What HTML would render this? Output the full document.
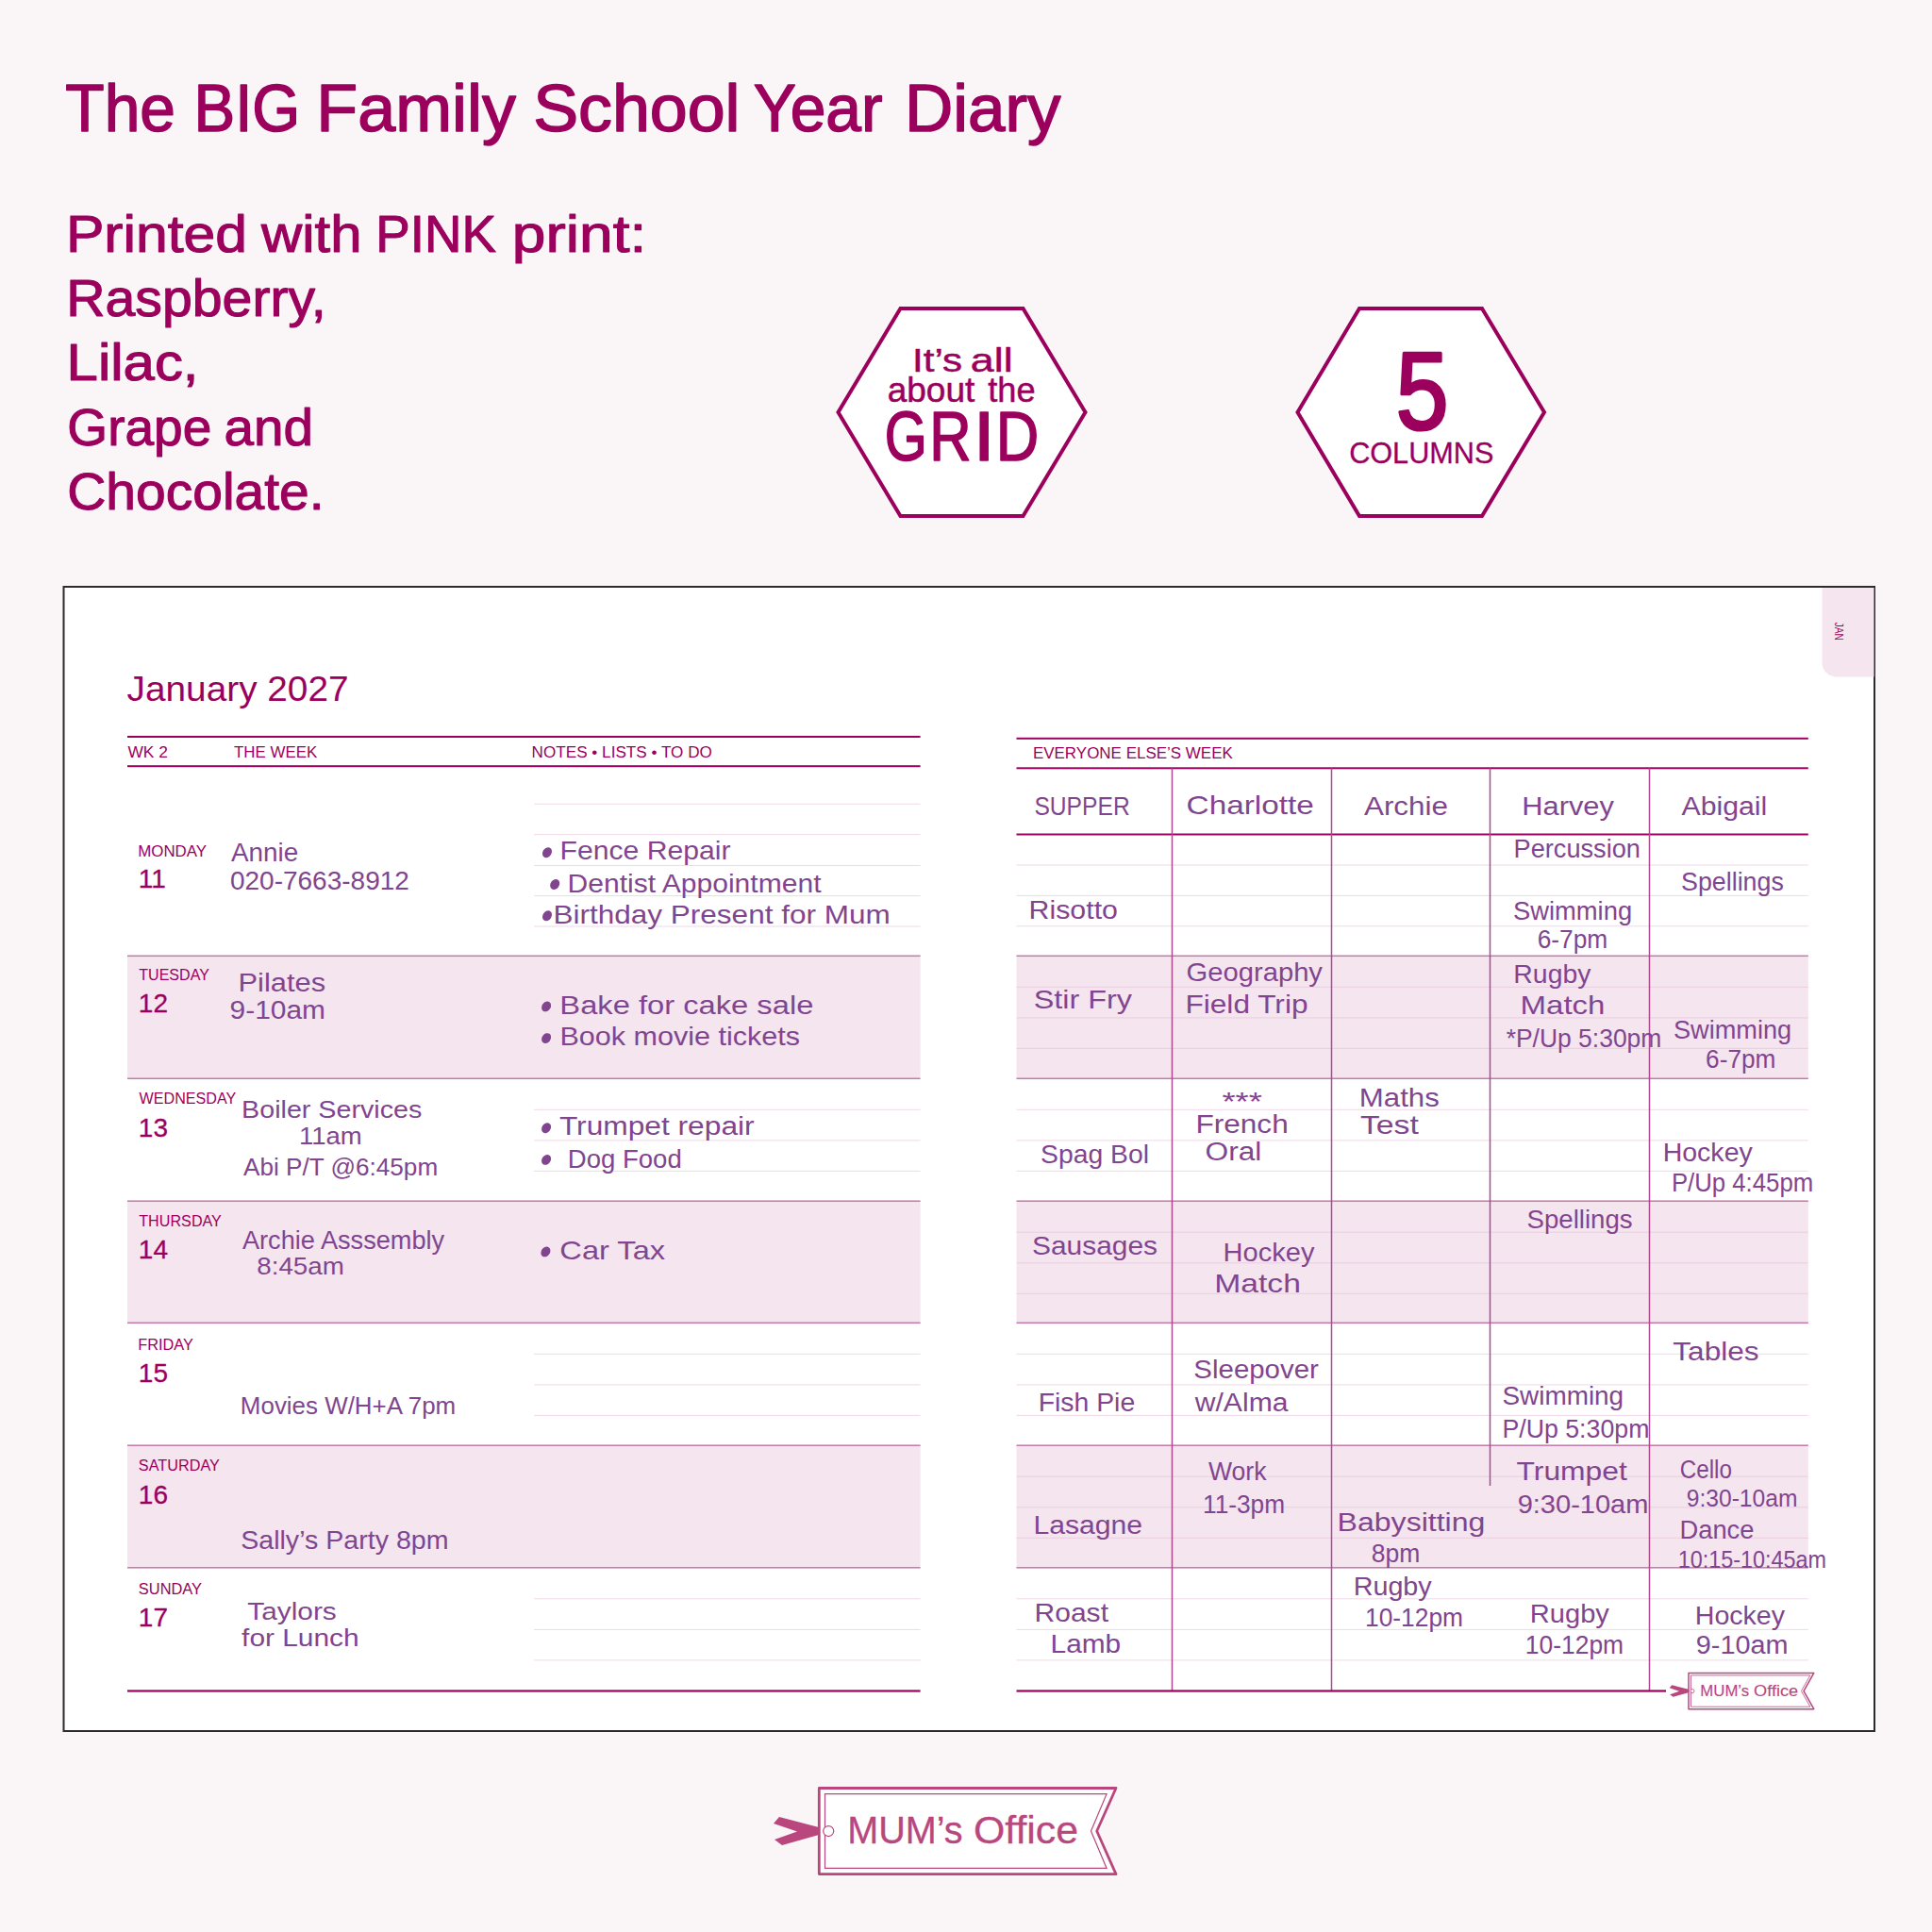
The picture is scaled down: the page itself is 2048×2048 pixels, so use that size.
<!DOCTYPE html>
<html><head><meta charset="utf-8"><title>The BIG Family School Year Diary</title>
<style>
html,body{margin:0;padding:0;background:#faf6f7;}
body{width:2048px;height:2048px;overflow:hidden;}
svg{display:block;font-family:"Liberation Sans", sans-serif;}
</style></head><body>
<svg width="2048" height="2048" viewBox="0 0 2048 2048">
<rect width="2048" height="2048" fill="#faf6f7"/>
<text transform="matrix(0.9541 0 0 1 69.28 139.00)" font-size="71" font-weight="normal" fill="#9b005d" stroke="#9b005d" stroke-width="1.5" stroke-linejoin="round">The</text>
<text transform="matrix(0.9219 0 0 1 205.53 139.00)" font-size="71" font-weight="normal" fill="#9b005d" stroke="#9b005d" stroke-width="1.5" stroke-linejoin="round">BIG</text>
<text transform="matrix(1.0124 0 0 1 335.30 139.00)" font-size="71" font-weight="normal" fill="#9b005d" stroke="#9b005d" stroke-width="1.5" stroke-linejoin="round">Family</text>
<text transform="matrix(1.0109 0 0 1 565.14 139.00)" font-size="71" font-weight="normal" fill="#9b005d" stroke="#9b005d" stroke-width="1.5" stroke-linejoin="round">School</text>
<text transform="matrix(0.9543 0 0 1 798.71 139.00)" font-size="71" font-weight="normal" fill="#9b005d" stroke="#9b005d" stroke-width="1.5" stroke-linejoin="round">Year</text>
<text transform="matrix(0.9999 0 0 1 958.88 139.00)" font-size="71" font-weight="normal" fill="#9b005d" stroke="#9b005d" stroke-width="1.5" stroke-linejoin="round">Diary</text>
<text transform="matrix(1.1022 0 0 1 69.93 267.30)" font-size="55" font-weight="normal" fill="#9b005d" stroke="#9b005d" stroke-width="1.1" stroke-linejoin="round">Printed</text>
<text transform="matrix(1.0878 0 0 1 277.09 267.30)" font-size="55" font-weight="normal" fill="#9b005d" stroke="#9b005d" stroke-width="1.1" stroke-linejoin="round">with</text>
<text transform="matrix(0.9948 0 0 1 398.31 267.30)" font-size="55" font-weight="normal" fill="#9b005d" stroke="#9b005d" stroke-width="1.1" stroke-linejoin="round">PINK</text>
<text transform="matrix(1.1644 0 0 1 542.87 267.30)" font-size="55" font-weight="normal" fill="#9b005d" stroke="#9b005d" stroke-width="1.1" stroke-linejoin="round">print:</text>
<text transform="matrix(1.0403 0 0 1 70.21 335.00)" font-size="55" font-weight="normal" fill="#9b005d" stroke="#9b005d" stroke-width="1.1" stroke-linejoin="round">Raspberry,</text>
<text transform="matrix(1.0904 0 0 1 70.58 403.40)" font-size="55" font-weight="normal" fill="#9b005d" stroke="#9b005d" stroke-width="1.1" stroke-linejoin="round">Lilac,</text>
<text transform="matrix(1.0010 0 0 1 71.33 472.00)" font-size="55" font-weight="normal" fill="#9b005d" stroke="#9b005d" stroke-width="1.1" stroke-linejoin="round">Grape</text>
<text transform="matrix(1.0305 0 0 1 237.49 472.00)" font-size="55" font-weight="normal" fill="#9b005d" stroke="#9b005d" stroke-width="1.1" stroke-linejoin="round">and</text>
<text transform="matrix(1.0360 0 0 1 71.21 539.80)" font-size="55" font-weight="normal" fill="#9b005d" stroke="#9b005d" stroke-width="1.1" stroke-linejoin="round">Chocolate.</text>
<polygon points="888.5,437 954.5,327 1084.5,327 1150.5,437 1084.5,547 954.5,547" fill="#ffffff" stroke="#9b005d" stroke-width="4" stroke-linejoin="miter"/>
<polygon points="1375.5,437 1441,327 1571,327 1637,437 1571,547 1441,547" fill="#ffffff" stroke="#9b005d" stroke-width="4" stroke-linejoin="miter"/>
<text transform="matrix(1.1697 0 0 1 967.11 393.90)" font-size="36" font-weight="normal" fill="#9b005d" stroke="#9b005d" stroke-width="0.5" stroke-linejoin="round">It’s</text>
<text transform="matrix(1.2438 0 0 1 1028.80 393.90)" font-size="36" font-weight="normal" fill="#9b005d" stroke="#9b005d" stroke-width="0.5" stroke-linejoin="round">all</text>
<text transform="matrix(1.0284 0 0 1 940.63 425.70)" font-size="36" font-weight="normal" fill="#9b005d" stroke="#9b005d" stroke-width="0.5" stroke-linejoin="round">about</text>
<text transform="matrix(1.0063 0 0 1 1047.25 425.70)" font-size="36" font-weight="normal" fill="#9b005d" stroke="#9b005d" stroke-width="0.5" stroke-linejoin="round">the</text>
<text transform="matrix(0.7804 0 0 1 937.80 487.90)" font-size="74" font-weight="normal" fill="#9b005d" stroke="#9b005d" stroke-width="1.6" stroke-linejoin="round">G</text>
<text transform="matrix(0.8307 0 0 1 985.26 487.90)" font-size="74" font-weight="normal" fill="#9b005d" stroke="#9b005d" stroke-width="1.6" stroke-linejoin="round">R</text>
<text transform="matrix(1.1157 0 0 1 1031.68 487.90)" font-size="74" font-weight="normal" fill="#9b005d" stroke="#9b005d" stroke-width="1.6" stroke-linejoin="round">I</text>
<text transform="matrix(0.8510 0 0 1 1055.83 487.90)" font-size="74" font-weight="normal" fill="#9b005d" stroke="#9b005d" stroke-width="1.6" stroke-linejoin="round">D</text>
<text transform="matrix(0.8637 0 0 1 1479.79 455.20)" font-size="116" font-weight="normal" fill="#9b005d" stroke="#9b005d" stroke-width="3.2" stroke-linejoin="round">5</text>
<text transform="matrix(0.9578 0 0 1 1430.14 491.40)" font-size="32" font-weight="normal" fill="#9b005d" stroke="#9b005d" stroke-width="0.3" stroke-linejoin="round">COLUMNS</text>
<rect x="67.5" y="622" width="1919.5" height="1213" fill="#ffffff" stroke="#2b2b2b" stroke-width="2"/>
<path d="M1931.5 623 H1986.5 V717.5 H1946.5 A15 15 0 0 1 1931.5 702.5 Z" fill="#f4e5ef"/>
<text transform="translate(1945 659.5) rotate(90)" font-size="12.5" fill="#9b005d" textLength="19.5" lengthAdjust="spacingAndGlyphs">JAN</text>
<text transform="matrix(1.0483 0 0 1 134.59 743.30)" font-size="37" font-weight="normal" fill="#9b005d">January 2027</text>
<rect x="135" y="780.00" width="840.60" height="2" fill="#9b005d"/>
<rect x="135" y="811.20" width="840.60" height="2" fill="#9b005d"/>
<text transform="matrix(1.0523 0 0 1 135.42 802.90)" font-size="16.5" font-weight="normal" fill="#9b005d">WK 2</text>
<text transform="matrix(1.0232 0 0 1 248.02 802.90)" font-size="16.5" font-weight="normal" fill="#9b005d">THE WEEK</text>
<text transform="matrix(1.0390 0 0 1 563.59 802.90)" font-size="16.5" font-weight="normal" fill="#9b005d">NOTES • LISTS • TO DO</text>
<rect x="566" y="851.70" width="409.60" height="1" fill="#f0d9e8"/>
<rect x="566" y="884.10" width="409.60" height="1" fill="#f0d9e8"/>
<rect x="566" y="917.00" width="409.60" height="1" fill="#f0d9e8"/>
<rect x="566" y="949.10" width="409.60" height="1" fill="#f0d9e8"/>
<rect x="566" y="981.50" width="409.60" height="1" fill="#f0d9e8"/>
<rect x="135" y="1013.3" width="840.6" height="130.0" fill="#f4e5ef"/>
<rect x="566" y="1175.80" width="409.60" height="1" fill="#f0d9e8"/>
<rect x="566" y="1208.40" width="409.60" height="1" fill="#f0d9e8"/>
<rect x="566" y="1240.90" width="409.60" height="1" fill="#f0d9e8"/>
<rect x="135" y="1273.2" width="840.6" height="129.0999999999999" fill="#f4e5ef"/>
<rect x="566" y="1434.80" width="409.60" height="1" fill="#f0d9e8"/>
<rect x="566" y="1467.40" width="409.60" height="1" fill="#f0d9e8"/>
<rect x="566" y="1499.90" width="409.60" height="1" fill="#f0d9e8"/>
<rect x="135" y="1532.2" width="840.6" height="129.5999999999999" fill="#f4e5ef"/>
<rect x="566" y="1694.30" width="409.60" height="1" fill="#f0d9e8"/>
<rect x="566" y="1726.90" width="409.60" height="1" fill="#f0d9e8"/>
<rect x="566" y="1759.40" width="409.60" height="1" fill="#f0d9e8"/>
<rect x="135" y="1012.55" width="840.60" height="1.5" fill="#c479a9"/>
<rect x="135" y="1142.55" width="840.60" height="1.5" fill="#c479a9"/>
<rect x="135" y="1272.45" width="840.60" height="1.5" fill="#c479a9"/>
<rect x="135" y="1401.55" width="840.60" height="1.5" fill="#c479a9"/>
<rect x="135" y="1531.45" width="840.60" height="1.5" fill="#c479a9"/>
<rect x="135" y="1661.05" width="840.60" height="1.5" fill="#c479a9"/>
<rect x="135" y="1791.40" width="840.60" height="2.2" fill="#9b005d"/>
<text transform="matrix(1.0117 0 0 1 146.21 907.90)" font-size="16.7" font-weight="normal" fill="#9b005d">MONDAY</text>
<text transform="matrix(1.0000 0 0 1 146.87 940.90)" font-size="28" font-weight="normal" fill="#9b005d" stroke="#9b005d" stroke-width="0.3" stroke-linejoin="round">11</text>
<text transform="matrix(0.9624 0 0 1 147.24 1038.90)" font-size="16.7" font-weight="normal" fill="#9b005d">TUESDAY</text>
<text transform="matrix(1.0000 0 0 1 146.87 1073.00)" font-size="28" font-weight="normal" fill="#9b005d" stroke="#9b005d" stroke-width="0.3" stroke-linejoin="round">12</text>
<text transform="matrix(0.9655 0 0 1 147.53 1170.20)" font-size="16.7" font-weight="normal" fill="#9b005d">WEDNESDAY</text>
<text transform="matrix(1.0000 0 0 1 146.87 1204.50)" font-size="28" font-weight="normal" fill="#9b005d" stroke="#9b005d" stroke-width="0.3" stroke-linejoin="round">13</text>
<text transform="matrix(0.9680 0 0 1 147.24 1299.90)" font-size="16.7" font-weight="normal" fill="#9b005d">THURSDAY</text>
<text transform="matrix(1.0000 0 0 1 146.87 1333.90)" font-size="28" font-weight="normal" fill="#9b005d" stroke="#9b005d" stroke-width="0.3" stroke-linejoin="round">14</text>
<text transform="matrix(0.9781 0 0 1 146.26 1430.90)" font-size="16.7" font-weight="normal" fill="#9b005d">FRIDAY</text>
<text transform="matrix(1.0000 0 0 1 146.87 1465.20)" font-size="28" font-weight="normal" fill="#9b005d" stroke="#9b005d" stroke-width="0.3" stroke-linejoin="round">15</text>
<text transform="matrix(0.9732 0 0 1 146.86 1559.00)" font-size="16.7" font-weight="normal" fill="#9b005d">SATURDAY</text>
<text transform="matrix(1.0000 0 0 1 146.87 1593.50)" font-size="28" font-weight="normal" fill="#9b005d" stroke="#9b005d" stroke-width="0.3" stroke-linejoin="round">16</text>
<text transform="matrix(0.9843 0 0 1 146.85 1689.70)" font-size="16.7" font-weight="normal" fill="#9b005d">SUNDAY</text>
<text transform="matrix(1.0000 0 0 1 146.87 1723.90)" font-size="28" font-weight="normal" fill="#9b005d" stroke="#9b005d" stroke-width="0.3" stroke-linejoin="round">17</text>
<rect x="1077.5" y="781.80" width="839.30" height="2" fill="#9b005d"/>
<rect x="1077.5" y="813.30" width="839.30" height="2" fill="#9b005d"/>
<text transform="matrix(1.0289 0 0 1 1094.91 804.00)" font-size="16.5" font-weight="normal" fill="#9b005d">EVERYONE ELSE’S WEEK</text>
<rect x="1077.5" y="883.50" width="839.30" height="2" fill="#9b005d"/>
<rect x="1077.5" y="916.50" width="839.30" height="1" fill="#f0d9e8"/>
<rect x="1077.5" y="948.90" width="839.30" height="1" fill="#f0d9e8"/>
<rect x="1077.5" y="981.30" width="839.30" height="1" fill="#f0d9e8"/>
<rect x="1077.5" y="1013.3" width="839.3" height="130.0" fill="#f4e5ef"/>
<rect x="1077.5" y="1045.80" width="839.30" height="1" fill="#e9cfe0"/>
<rect x="1077.5" y="1078.40" width="839.30" height="1" fill="#e9cfe0"/>
<rect x="1077.5" y="1110.90" width="839.30" height="1" fill="#e9cfe0"/>
<rect x="1077.5" y="1175.80" width="839.30" height="1" fill="#f0d9e8"/>
<rect x="1077.5" y="1208.40" width="839.30" height="1" fill="#f0d9e8"/>
<rect x="1077.5" y="1240.90" width="839.30" height="1" fill="#f0d9e8"/>
<rect x="1077.5" y="1273.2" width="839.3" height="129.0999999999999" fill="#f4e5ef"/>
<rect x="1077.5" y="1305.70" width="839.30" height="1" fill="#e9cfe0"/>
<rect x="1077.5" y="1338.30" width="839.30" height="1" fill="#e9cfe0"/>
<rect x="1077.5" y="1370.80" width="839.30" height="1" fill="#e9cfe0"/>
<rect x="1077.5" y="1434.80" width="839.30" height="1" fill="#f0d9e8"/>
<rect x="1077.5" y="1467.40" width="839.30" height="1" fill="#f0d9e8"/>
<rect x="1077.5" y="1499.90" width="839.30" height="1" fill="#f0d9e8"/>
<rect x="1077.5" y="1532.2" width="839.3" height="129.5999999999999" fill="#f4e5ef"/>
<rect x="1077.5" y="1564.70" width="839.30" height="1" fill="#e9cfe0"/>
<rect x="1077.5" y="1597.30" width="839.30" height="1" fill="#e9cfe0"/>
<rect x="1077.5" y="1629.80" width="839.30" height="1" fill="#e9cfe0"/>
<rect x="1077.5" y="1694.30" width="839.30" height="1" fill="#f0d9e8"/>
<rect x="1077.5" y="1726.90" width="839.30" height="1" fill="#f0d9e8"/>
<rect x="1077.5" y="1759.40" width="839.30" height="1" fill="#f0d9e8"/>
<rect x="1077.5" y="1012.55" width="839.30" height="1.5" fill="#c479a9"/>
<rect x="1077.5" y="1142.55" width="839.30" height="1.5" fill="#c479a9"/>
<rect x="1077.5" y="1272.45" width="839.30" height="1.5" fill="#c479a9"/>
<rect x="1077.5" y="1401.55" width="839.30" height="1.5" fill="#c479a9"/>
<rect x="1077.5" y="1531.45" width="839.30" height="1.5" fill="#c479a9"/>
<rect x="1077.5" y="1661.05" width="839.30" height="1.5" fill="#c479a9"/>
<rect x="1241.75" y="814.3" width="1.5" height="978.20" fill="#ad4a8f"/>
<rect x="1410.75" y="814.3" width="1.5" height="978.20" fill="#ad4a8f"/>
<rect x="1578.75" y="814.3" width="1.5" height="760.70" fill="#ad4a8f"/>
<rect x="1747.75" y="814.3" width="1.5" height="978.20" fill="#ad4a8f"/>
<rect x="1077.5" y="1791.40" width="688.50" height="2.2" fill="#9b005d"/>
<path d="M1790 1773.4 H1922.8 L1912 1792.5500000000002 L1922.8 1811.7 H1790 Z" fill="#ffffff" stroke="#b9477d" stroke-width="1.5" stroke-linejoin="round"/>
<path d="M1792.5 1775.9 H1918.8 L1909.5 1792.5500000000002 L1918.8 1809.2 H1792.5 Z" fill="none" stroke="#b9477d" stroke-width="0.8"/>
<path d="M1769.71 1789.19 L1772.23 1786.25 L1789.87 1790.87 L1789.87 1794.23 L1773.49 1798.85 L1770.13 1796.33 L1780.21 1792.76 Z" fill="#b9477d"/>
<circle cx="1794.0" cy="1792.5500000000002" r="2" fill="#ffffff" stroke="#b9477d" stroke-width="0.8"/>
<text transform="matrix(1.0493 0 0 1 1802.32 1798.20)" font-size="16" font-weight="normal" fill="#b9477d" stroke="#b9477d" stroke-width="0.12718204488778054" stroke-linejoin="round">MUM’s</text>
<text transform="matrix(1.1355 0 0 1 1859.05 1798.20)" font-size="16" font-weight="normal" fill="#b9477d" stroke="#b9477d" stroke-width="0.12718204488778054" stroke-linejoin="round">Office</text>
<path d="M868.3 1895.5 H1183 L1162.7 1941.05 L1183 1986.6 H868.3 Z" fill="#ffffff" stroke="#b9477d" stroke-width="2.8" stroke-linejoin="round"/>
<path d="M874.5 1901.7 H1173.08 L1156.5 1941.05 L1173.08 1980.3999999999999 H874.5 Z" fill="none" stroke="#b9477d" stroke-width="1.2"/>
<path d="M820.00 1933.05 L826.00 1926.05 L868.00 1937.05 L868.00 1945.05 L829.00 1956.05 L821.00 1950.05 L845.00 1941.55 Z" fill="#b9477d"/>
<circle cx="878.2199999999999" cy="1941.05" r="5.5" fill="#ffffff" stroke="#b9477d" stroke-width="1.2"/>
<text transform="matrix(0.9901 0 0 1 898.15 1953.50)" font-size="40" font-weight="normal" fill="#b9477d" stroke="#b9477d" stroke-width="0.3" stroke-linejoin="round">MUM’s</text>
<text transform="matrix(1.0714 0 0 1 1031.97 1953.50)" font-size="40" font-weight="normal" fill="#b9477d" stroke="#b9477d" stroke-width="0.3" stroke-linejoin="round">Office</text>
<ellipse cx="580" cy="903.7" rx="4.6" ry="5.8" transform="rotate(35 580 903.7)" fill="#81458f"/>
<ellipse cx="588.2" cy="937.5" rx="4.6" ry="5.8" transform="rotate(35 588.2 937.5)" fill="#81458f"/>
<ellipse cx="580" cy="970.8" rx="4.6" ry="5.8" transform="rotate(35 580 970.8)" fill="#81458f"/>
<ellipse cx="579.1" cy="1066.9" rx="4.6" ry="5.8" transform="rotate(35 579.1 1066.9)" fill="#81458f"/>
<ellipse cx="579.1" cy="1100.6" rx="4.6" ry="5.8" transform="rotate(35 579.1 1100.6)" fill="#81458f"/>
<ellipse cx="579.1" cy="1195.7" rx="4.6" ry="5.8" transform="rotate(35 579.1 1195.7)" fill="#81458f"/>
<ellipse cx="579.1" cy="1229.4" rx="4.6" ry="5.8" transform="rotate(35 579.1 1229.4)" fill="#81458f"/>
<ellipse cx="578.4" cy="1326.9" rx="4.6" ry="5.8" transform="rotate(35 578.4 1326.9)" fill="#81458f"/>
<text transform="matrix(1.0324 0 0 1 244.95 913.00)" font-size="27" font-weight="normal" fill="#81458f">Annie</text>
<text transform="matrix(1.0379 0 0 1 243.91 943.00)" font-size="27" font-weight="normal" fill="#81458f">020-7663-8912</text>
<text transform="matrix(1.1166 0 0 1 593.53 911.40)" font-size="27" font-weight="normal" fill="#81458f">Fence Repair</text>
<text transform="matrix(1.1133 0 0 1 601.53 946.00)" font-size="27" font-weight="normal" fill="#81458f">Dentist Appointment</text>
<text transform="matrix(1.1678 0 0 1 586.41 979.00)" font-size="27" font-weight="normal" fill="#81458f">Birthday Present for Mum</text>
<text transform="matrix(1.1432 0 0 1 252.47 1050.60)" font-size="27" font-weight="normal" fill="#81458f">Pilates</text>
<text transform="matrix(1.1073 0 0 1 243.60 1079.70)" font-size="27" font-weight="normal" fill="#81458f">9-10am</text>
<text transform="matrix(1.2117 0 0 1 593.32 1074.50)" font-size="27" font-weight="normal" fill="#81458f">Bake for cake sale</text>
<text transform="matrix(1.1312 0 0 1 593.49 1108.30)" font-size="27" font-weight="normal" fill="#81458f">Book movie tickets</text>
<text transform="matrix(1.1038 0 0 1 256.05 1184.50)" font-size="26" font-weight="normal" fill="#81458f">Boiler Services</text>
<text transform="matrix(1.0596 0 0 1 316.90 1212.50)" font-size="26" font-weight="normal" fill="#81458f">11am</text>
<text transform="matrix(1.0058 0 0 1 257.95 1246.00)" font-size="26" font-weight="normal" fill="#81458f">Abi P/T @6:45pm</text>
<text transform="matrix(1.1750 0 0 1 592.89 1202.60)" font-size="27" font-weight="normal" fill="#81458f">Trumpet repair</text>
<text transform="matrix(1.0208 0 0 1 601.74 1237.60)" font-size="27" font-weight="normal" fill="#81458f">Dog Food</text>
<text transform="matrix(1.0058 0 0 1 256.95 1324.00)" font-size="27" font-weight="normal" fill="#81458f">Archie Asssembly</text>
<text transform="matrix(1.0670 0 0 1 272.29 1351.00)" font-size="26" font-weight="normal" fill="#81458f">8:45am</text>
<text transform="matrix(1.2082 0 0 1 593.34 1334.50)" font-size="27" font-weight="normal" fill="#81458f">Car Tax</text>
<text transform="matrix(0.9974 0 0 1 254.87 1498.80)" font-size="26" font-weight="normal" fill="#81458f">Movies W/H+A 7pm</text>
<text transform="matrix(1.0596 0 0 1 255.20 1642.30)" font-size="27" font-weight="normal" fill="#81458f">Sally’s Party 8pm</text>
<text transform="matrix(1.1468 0 0 1 262.33 1716.80)" font-size="26" font-weight="normal" fill="#81458f">Taylors</text>
<text transform="matrix(1.1500 0 0 1 256.08 1744.80)" font-size="26" font-weight="normal" fill="#81458f">for Lunch</text>
<text transform="matrix(0.8803 0 0 1 1096.38 863.50)" font-size="28" font-weight="normal" fill="#81458f">SUPPER</text>
<text transform="matrix(1.1898 0 0 1 1257.61 863.00)" font-size="28" font-weight="normal" fill="#81458f">Charlotte</text>
<text transform="matrix(1.1221 0 0 1 1445.94 863.50)" font-size="28" font-weight="normal" fill="#81458f">Archie</text>
<text transform="matrix(1.1003 0 0 1 1613.27 863.50)" font-size="28" font-weight="normal" fill="#81458f">Harvey</text>
<text transform="matrix(1.0813 0 0 1 1782.44 863.50)" font-size="28" font-weight="normal" fill="#81458f">Abigail</text>
<text transform="matrix(1.0062 0 0 1 1604.57 909.30)" font-size="27" font-weight="normal" fill="#81458f">Percussion</text>
<text transform="matrix(0.9929 0 0 1 1782.08 943.70)" font-size="27" font-weight="normal" fill="#81458f">Spellings</text>
<text transform="matrix(1.1241 0 0 1 1090.51 973.50)" font-size="27" font-weight="normal" fill="#81458f">Risotto</text>
<text transform="matrix(1.0136 0 0 1 1603.96 974.80)" font-size="27" font-weight="normal" fill="#81458f">Swimming</text>
<text transform="matrix(0.9744 0 0 1 1629.66 1004.60)" font-size="27" font-weight="normal" fill="#81458f">6-7pm</text>
<text transform="matrix(1.0819 0 0 1 1257.53 1040.00)" font-size="27" font-weight="normal" fill="#81458f">Geography</text>
<text transform="matrix(1.1724 0 0 1 1256.40 1073.80)" font-size="27" font-weight="normal" fill="#81458f">Field Trip</text>
<text transform="matrix(1.1994 0 0 1 1095.73 1069.40)" font-size="27" font-weight="normal" fill="#81458f">Stir Fry</text>
<text transform="matrix(1.0517 0 0 1 1604.37 1042.10)" font-size="27" font-weight="normal" fill="#81458f">Rugby</text>
<text transform="matrix(1.2249 0 0 1 1611.49 1074.70)" font-size="27" font-weight="normal" fill="#81458f">Match</text>
<text transform="matrix(0.9803 0 0 1 1596.67 1109.80)" font-size="27" font-weight="normal" fill="#81458f">*P/Up 5:30pm</text>
<text transform="matrix(1.0061 0 0 1 1773.97 1101.30)" font-size="27" font-weight="normal" fill="#81458f">Swimming</text>
<text transform="matrix(0.9717 0 0 1 1808.07 1131.60)" font-size="27" font-weight="normal" fill="#81458f">6-7pm</text>
<text transform="matrix(1.1703 0 0 1 1267.41 1201.30)" font-size="27" font-weight="normal" fill="#81458f">French</text>
<text transform="matrix(1.1748 0 0 1 1277.50 1230.30)" font-size="27" font-weight="normal" fill="#81458f">Oral</text>
<text transform="matrix(1.1559 0 0 1 1440.84 1172.90)" font-size="27" font-weight="normal" fill="#81458f">Maths</text>
<text transform="matrix(1.2513 0 0 1 1441.94 1201.90)" font-size="27" font-weight="normal" fill="#81458f">Test</text>
<text transform="matrix(1.0493 0 0 1 1103.11 1233.00)" font-size="27" font-weight="normal" fill="#81458f">Spag Bol</text>
<text transform="matrix(1.0563 0 0 1 1762.66 1231.20)" font-size="27" font-weight="normal" fill="#81458f">Hockey</text>
<text transform="matrix(0.9538 0 0 1 1771.89 1263.00)" font-size="27" font-weight="normal" fill="#81458f">P/Up 4:45pm</text>
<text transform="matrix(1.1078 0 0 1 1094.04 1329.90)" font-size="27" font-weight="normal" fill="#81458f">Sausages</text>
<text transform="matrix(1.0768 0 0 1 1296.62 1336.90)" font-size="27" font-weight="normal" fill="#81458f">Hockey</text>
<text transform="matrix(1.2465 0 0 1 1287.24 1370.00)" font-size="27" font-weight="normal" fill="#81458f">Match</text>
<text transform="matrix(1.0245 0 0 1 1618.44 1302.00)" font-size="27" font-weight="normal" fill="#81458f">Spellings</text>
<text transform="matrix(1.1704 0 0 1 1773.29 1442.20)" font-size="27" font-weight="normal" fill="#81458f">Tables</text>
<text transform="matrix(1.0900 0 0 1 1265.36 1460.60)" font-size="27" font-weight="normal" fill="#81458f">Sleepover</text>
<text transform="matrix(1.1157 0 0 1 1266.74 1495.50)" font-size="27" font-weight="normal" fill="#81458f">w/Alma</text>
<text transform="matrix(1.0519 0 0 1 1100.67 1496.00)" font-size="27" font-weight="normal" fill="#81458f">Fish Pie</text>
<text transform="matrix(1.0341 0 0 1 1592.43 1488.90)" font-size="27" font-weight="normal" fill="#81458f">Swimming</text>
<text transform="matrix(0.9903 0 0 1 1592.41 1524.20)" font-size="27" font-weight="normal" fill="#81458f">P/Up 5:30pm</text>
<text transform="matrix(0.9855 0 0 1 1280.88 1569.20)" font-size="27" font-weight="normal" fill="#81458f">Work</text>
<text transform="matrix(0.9737 0 0 1 1275.00 1604.10)" font-size="27" font-weight="normal" fill="#81458f">11-3pm</text>
<text transform="matrix(1.1160 0 0 1 1095.53 1625.60)" font-size="27" font-weight="normal" fill="#81458f">Lasagne</text>
<text transform="matrix(1.1880 0 0 1 1417.57 1623.30)" font-size="27" font-weight="normal" fill="#81458f">Babysitting</text>
<text transform="matrix(0.9824 0 0 1 1453.65 1655.90)" font-size="27" font-weight="normal" fill="#81458f">8pm</text>
<text transform="matrix(1.1783 0 0 1 1607.59 1569.00)" font-size="27" font-weight="normal" fill="#81458f">Trumpet</text>
<text transform="matrix(1.0759 0 0 1 1608.64 1604.30)" font-size="27" font-weight="normal" fill="#81458f">9:30-10am</text>
<text transform="matrix(0.8980 0 0 1 1780.77 1566.70)" font-size="27" font-weight="normal" fill="#81458f">Cello</text>
<text transform="matrix(0.9475 0 0 1 1787.75 1597.40)" font-size="26" font-weight="normal" fill="#81458f">9:30-10am</text>
<text transform="matrix(1.0130 0 0 1 1780.46 1631.10)" font-size="27" font-weight="normal" fill="#81458f">Dance</text>
<text transform="matrix(0.9001 0 0 1 1778.72 1662.30)" font-size="26" font-weight="normal" fill="#81458f">10:15-10:45am</text>
<text transform="matrix(1.0649 0 0 1 1434.64 1690.80)" font-size="27" font-weight="normal" fill="#81458f">Rugby</text>
<text transform="matrix(0.9764 0 0 1 1446.99 1724.40)" font-size="27" font-weight="normal" fill="#81458f">10-12pm</text>
<text transform="matrix(1.1127 0 0 1 1096.54 1718.80)" font-size="27" font-weight="normal" fill="#81458f">Roast</text>
<text transform="matrix(1.1061 0 0 1 1113.55 1752.40)" font-size="27" font-weight="normal" fill="#81458f">Lamb</text>
<text transform="matrix(1.0768 0 0 1 1621.82 1720.40)" font-size="27" font-weight="normal" fill="#81458f">Rugby</text>
<text transform="matrix(0.9793 0 0 1 1616.79 1753.40)" font-size="27" font-weight="normal" fill="#81458f">10-12pm</text>
<text transform="matrix(1.0585 0 0 1 1796.76 1721.50)" font-size="27" font-weight="normal" fill="#81458f">Hockey</text>
<text transform="matrix(1.0678 0 0 1 1797.75 1753.40)" font-size="27" font-weight="normal" fill="#81458f">9-10am</text>
<text transform="matrix(1.3468 0 0 1 1295.41 1177.00)" font-size="27" font-weight="normal" fill="#81458f">***</text>
</svg>
</body></html>
